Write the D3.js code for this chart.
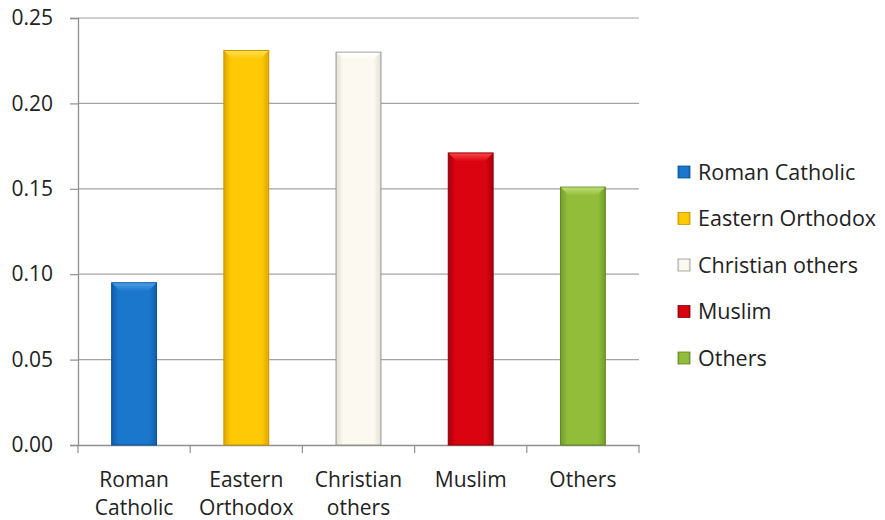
<!DOCTYPE html>
<html>
<head>
<meta charset="utf-8">
<script src="https://cdn.jsdelivr.net/npm/d3@7"></script>
<style>
  html, body { margin: 0; padding: 0; background: #fff; }
  svg { display: block; }
  text { font-family: "Open Sans", "Liberation Sans", sans-serif; fill: #222; }
</style>
</head>
<body>
<svg id="chart" width="885" height="520"></svg>
<script>
// Share of population by religious group
const categories = ["Roman Catholic", "Eastern Orthodox", "Christian others", "Muslim", "Others"];
const axisLabels = [["Roman", "Catholic"], ["Eastern", "Orthodox"], ["Christian", "others"], ["Muslim"], ["Others"]];
const values = [0.095, 0.231, 0.230, 0.171, 0.151];
const yTicks = [0.00, 0.05, 0.10, 0.15, 0.20, 0.25];

// fill: [edge, middle, highlight, outline]
const palette = [
  ["#0f5fae", "#1a77cc", "#4fa3ea", "#0b4f92"],
  ["#e0a800", "#ffc905", "#ffe25a", "#c89400"],
  ["#e4e1d6", "#fbf9f0", "#ffffff", "#949490"],
  ["#aa0008", "#d90410", "#ff4a4a", "#8c0008"],
  ["#739e2a", "#91bd3b", "#c3e07a", "#5f8522"]
];

const svg = d3.select("#chart");
const margin = { left: 78, right: 639, top: 18, bottom: 445 };

const x = d3.scaleBand()
  .domain(categories)
  .range([margin.left, margin.right])
  .paddingInner(0.6)
  .paddingOuter(0.3);

const y = d3.scaleLinear()
  .domain([0, 0.25])
  .range([margin.bottom, margin.top]);

// gradients for each bar colour
const defs = svg.append("defs");
palette.forEach((p, i) => {
  const g = defs.append("linearGradient").attr("id", "barGrad" + i)
    .attr("x1", "0%").attr("x2", "100%").attr("y1", "0%").attr("y2", "0%");
  g.append("stop").attr("offset", "0%").attr("stop-color", p[0]);
  g.append("stop").attr("offset", "16%").attr("stop-color", p[1]);
  g.append("stop").attr("offset", "84%").attr("stop-color", p[1]);
  g.append("stop").attr("offset", "100%").attr("stop-color", p[0]);
  const t = defs.append("linearGradient").attr("id", "topGrad" + i)
    .attr("x1", "0%").attr("x2", "0%").attr("y1", "0%").attr("y2", "100%");
  t.append("stop").attr("offset", "0%").attr("stop-color", p[2]);
  t.append("stop").attr("offset", "100%").attr("stop-color", p[1]);
});

// horizontal gridlines
svg.append("g")
  .selectAll("line")
  .data(yTicks.filter(d => d > 0))
  .join("line")
  .attr("x1", margin.left).attr("x2", margin.right)
  .attr("y1", d => y(d)).attr("y2", d => y(d))
  .attr("stroke", "#a3a3a3").attr("stroke-width", 1.2);

// y axis
const yAxis = svg.append("g")
  .attr("transform", `translate(${margin.left},0)`)
  .call(d3.axisLeft(y).tickValues(yTicks).tickFormat(d3.format(".2f")).tickSize(8).tickPadding(17));
yAxis.select(".domain").attr("stroke", "#8f8f8f").attr("stroke-width", 1.3);
yAxis.selectAll(".tick line").attr("stroke", "#8f8f8f").attr("stroke-width", 1.2);
yAxis.selectAll(".tick text")
  .attr("font-size", 21)
  .attr("font-family", "'Open Sans', sans-serif")
  .attr("fill", "#222");

// x axis
const xAxis = svg.append("g")
  .attr("transform", `translate(0,${margin.bottom})`)
  .call(d3.axisBottom(x).tickSize(0).tickFormat(""));
xAxis.select(".domain").attr("stroke", "#8f8f8f").attr("stroke-width", 1.3);
// tick marks between categories
svg.append("g")
  .selectAll("line")
  .data(d3.range(categories.length + 1))
  .join("line")
  .attr("x1", i => margin.left + i * (margin.right - margin.left) / categories.length)
  .attr("x2", i => margin.left + i * (margin.right - margin.left) / categories.length)
  .attr("y1", margin.bottom).attr("y2", margin.bottom + 8)
  .attr("stroke", "#8f8f8f").attr("stroke-width", 1.2);

// category labels
svg.append("g")
  .selectAll("text")
  .data(categories)
  .join("text")
  .attr("x", d => x(d) + x.bandwidth() / 2)
  .attr("y", margin.bottom + 42)
  .attr("text-anchor", "middle")
  .attr("font-size", 21)
  .each(function(d, i) {
    const t = d3.select(this);
    axisLabels[i].forEach((line, k) => {
      t.append("tspan").attr("x", x(d) + x.bandwidth() / 2).attr("dy", k === 0 ? 0 : 28).text(line);
    });
  });

// bars with bevelled tops
const bars = svg.append("g")
  .selectAll("g")
  .data(categories)
  .join("g");

bars.append("rect")
  .attr("x", d => x(d))
  .attr("y", (d, i) => y(values[i]))
  .attr("width", x.bandwidth())
  .attr("height", (d, i) => y(0) - y(values[i]))
  .attr("fill", (d, i) => `url(#barGrad${i})`)
  .attr("stroke", (d, i) => palette[i][3])
  .attr("stroke-width", 1);

const bevel = 8;
bars.append("path")
  .attr("d", (d, i) => {
    const x0 = x(d) + 0.5, x1 = x(d) + x.bandwidth() - 0.5, y0 = y(values[i]) + 0.5;
    return `M${x0},${y0} L${x1},${y0} L${x1 - bevel},${y0 + bevel} L${x0 + bevel},${y0 + bevel} Z`;
  })
  .attr("fill", (d, i) => `url(#topGrad${i})`)
  .attr("opacity", 0.9);

// legend
const legend = svg.append("g");
const legendRow = legend.selectAll("g")
  .data(categories)
  .join("g")
  .attr("transform", (d, i) => `translate(678,${172 + i * 46.5})`);

legendRow.append("rect")
  .attr("x", 0).attr("y", -6)
  .attr("width", 12).attr("height", 12)
  .attr("fill", (d, i) => `url(#barGrad${i})`)
  .attr("stroke", (d, i) => palette[i][3])
  .attr("stroke-width", 0.8);

legendRow.append("text")
  .attr("x", 20).attr("y", 0)
  .attr("dy", "0.35em")
  .attr("font-size", 21.5)
  .text(d => d);
</script>
</body>
</html>
